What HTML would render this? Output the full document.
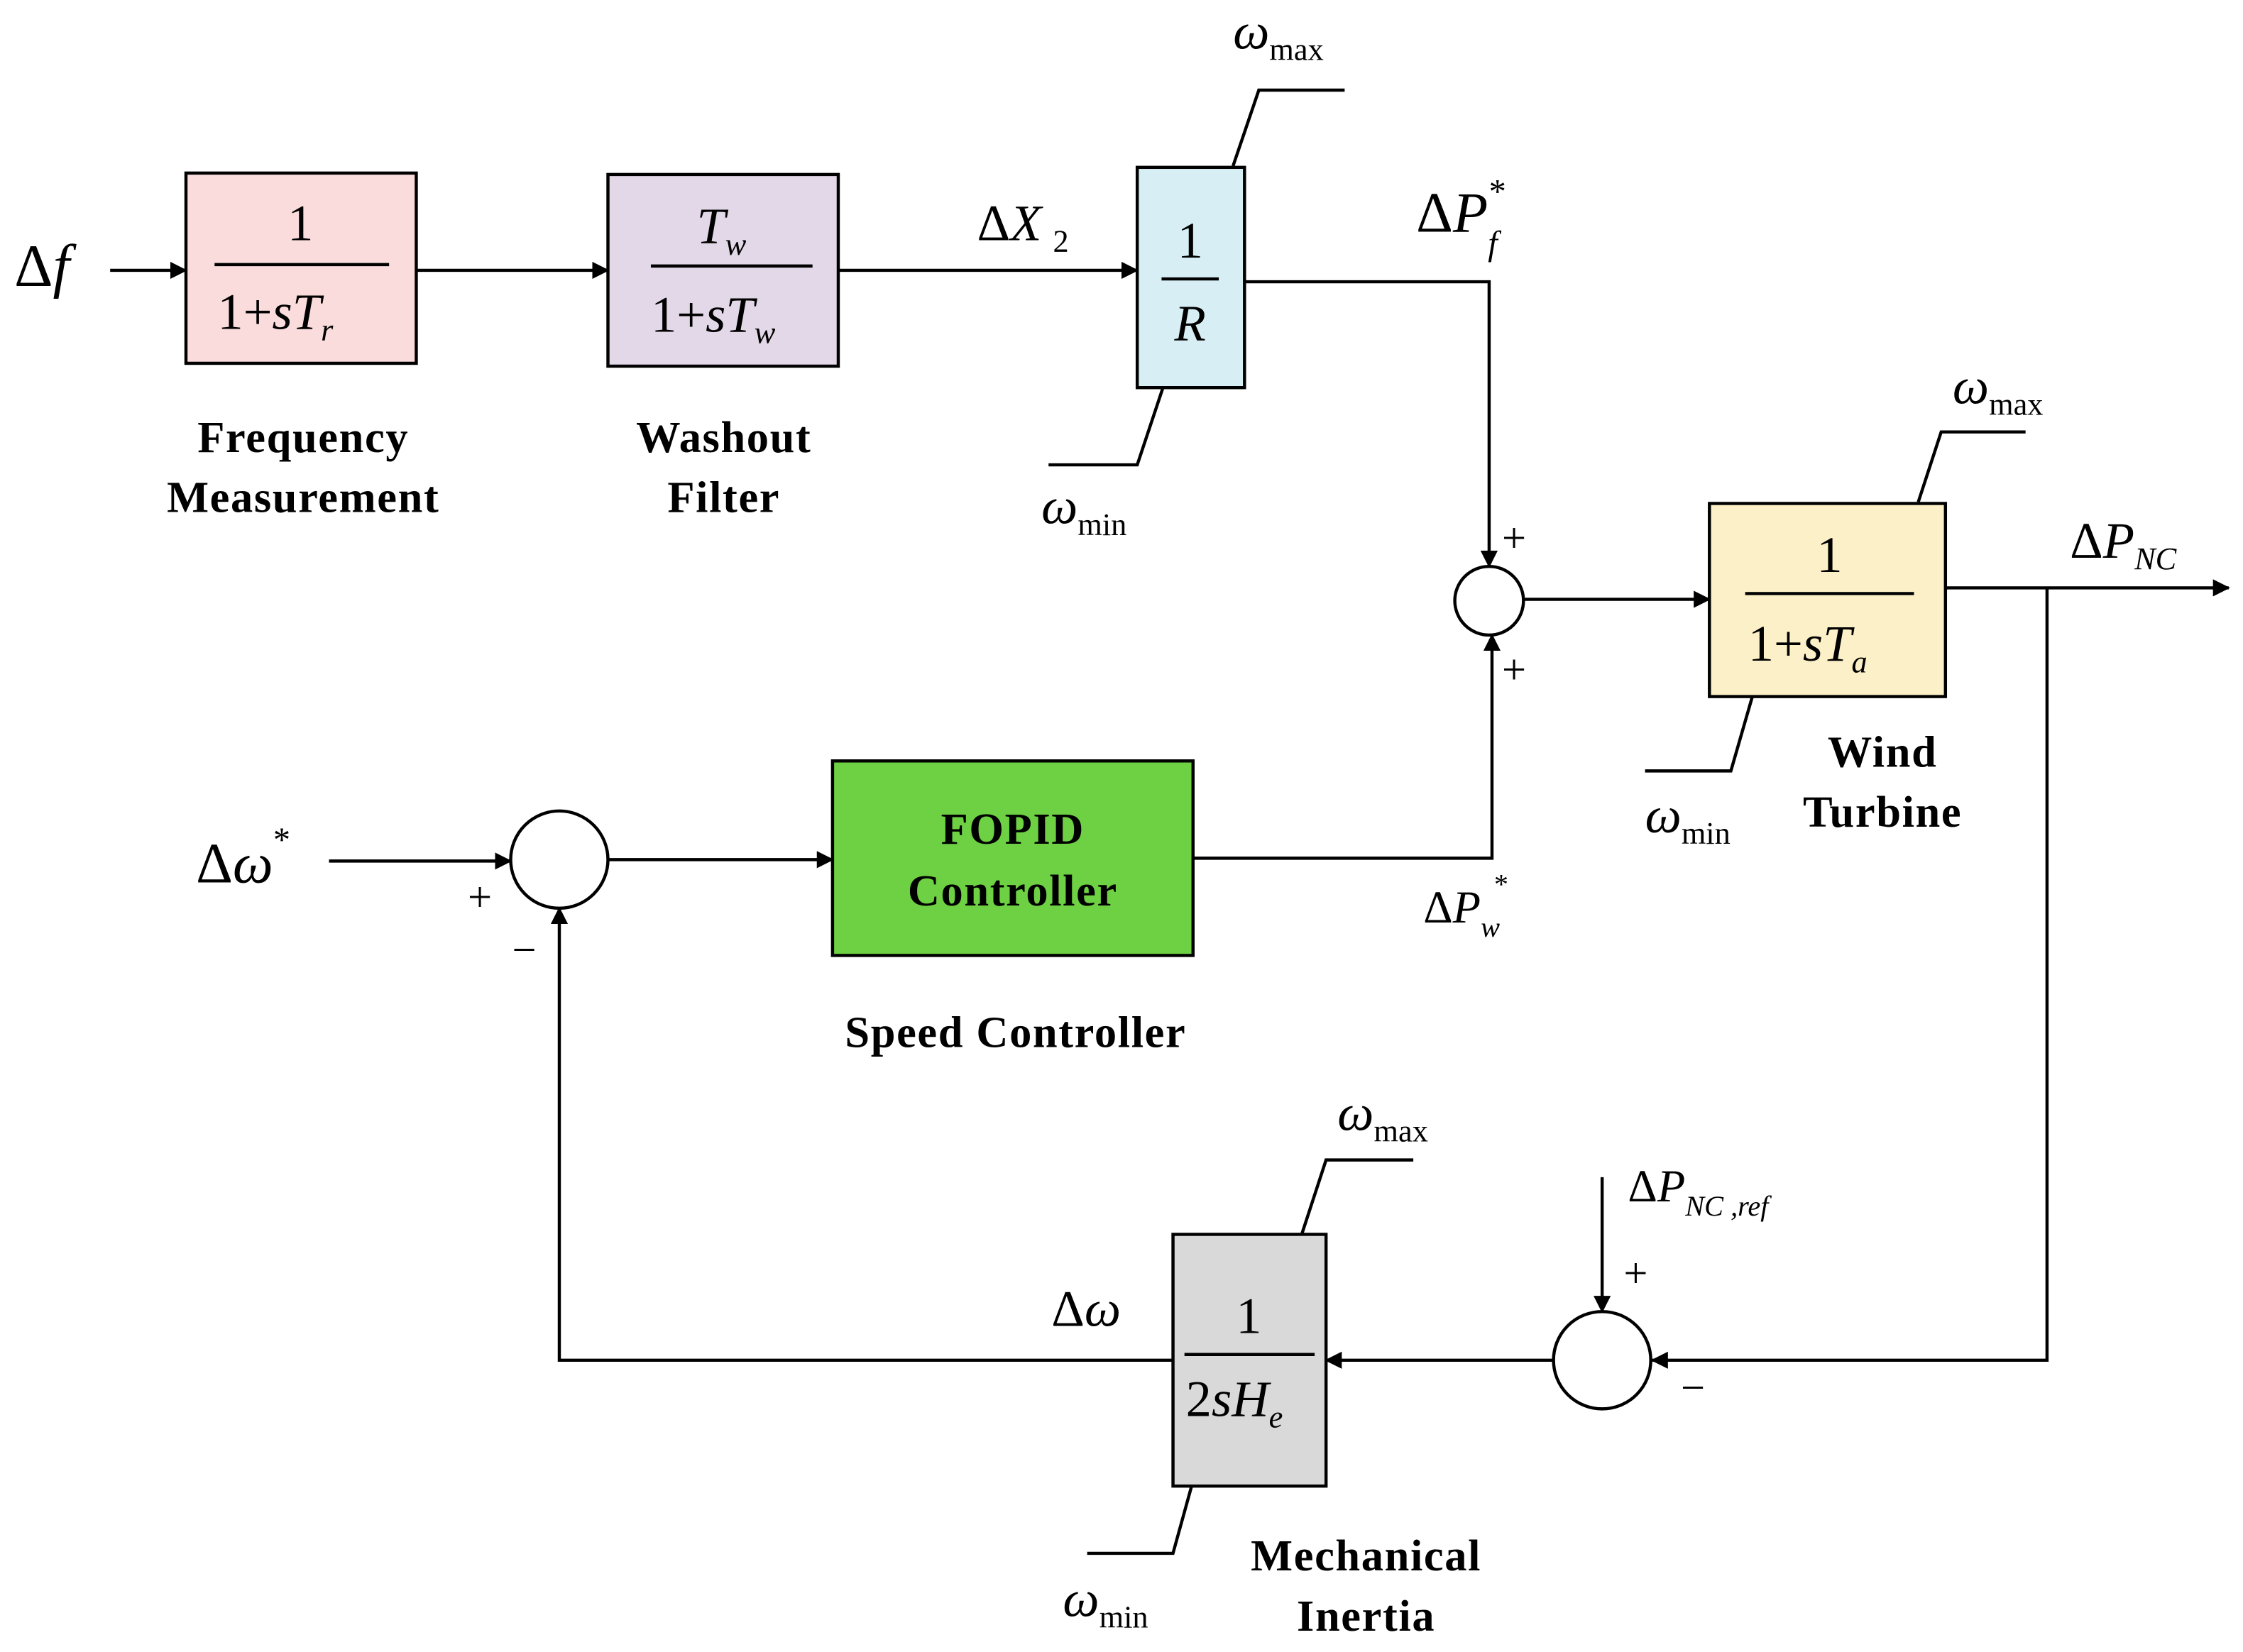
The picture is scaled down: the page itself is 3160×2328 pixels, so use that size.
<!DOCTYPE html>
<html><head><meta charset="utf-8"><style>html,body{margin:0;padding:0;background:#fff}svg{display:block}</style></head><body>
<svg width="3160" height="2328" viewBox="0 0 1568 1155" preserveAspectRatio="none" xmlns="http://www.w3.org/2000/svg" font-family="Liberation Serif, serif">
<defs><marker id="a" markerWidth="12" markerHeight="12" refX="11" refY="6" orient="auto" markerUnits="userSpaceOnUse"><path d="M0,0 L12,6 L0,12 z" fill="#000"/></marker></defs>
<g stroke="#000" stroke-width="2.2" fill="none">
<line x1="77" y1="189" x2="130" y2="189" marker-end="url(#a)"/>
<line x1="291" y1="189" x2="425" y2="189" marker-end="url(#a)"/>
<line x1="586" y1="189" x2="795" y2="189" marker-end="url(#a)"/>
<polyline points="870,197 1041,197 1041,396" marker-end="url(#a)"/>
<line x1="1065" y1="419" x2="1195" y2="419" marker-end="url(#a)"/>
<line x1="1360" y1="411" x2="1558" y2="411" marker-end="url(#a)"/>
<polyline points="1431,411 1431,951 1155,951" marker-end="url(#a)"/>
<line x1="1120" y1="823" x2="1120" y2="917" marker-end="url(#a)"/>
<line x1="1086" y1="951" x2="927" y2="951" marker-end="url(#a)"/>
<polyline points="820,951 391,951 391,635" marker-end="url(#a)"/>
<line x1="230" y1="602" x2="357" y2="602" marker-end="url(#a)"/>
<line x1="425" y1="601" x2="582" y2="601" marker-end="url(#a)"/>
<polyline points="834,600 1043,600 1043,444" marker-end="url(#a)"/>
<polyline points="862,116 880,63 940,63"/>
<polyline points="813,271 795,325 733,325"/>
<polyline points="1341,351 1357,302 1416,302"/>
<polyline points="1225,487 1210,539 1150,539"/>
<polyline points="910,863 927,811 988,811"/>
<polyline points="833,1039 820,1086 760,1086"/>
<circle cx="1041" cy="420" r="24"/>
<circle cx="1120" cy="951" r="34"/>
<circle cx="391" cy="601" r="34"/>
<rect x="130" y="121" width="161" height="133" fill="#f9dcdb"/>
<rect x="425" y="122" width="161" height="134" fill="#e3d8e8"/>
<rect x="795" y="117" width="75" height="154" fill="#d6eef4"/>
<rect x="1195" y="352" width="165" height="135" fill="#fcf0c8"/>
<rect x="820" y="863" width="107" height="176" fill="#d9d9d9"/>
<rect x="582" y="532" width="252" height="136" fill="#6ed143"/>
<line x1="150" y1="185" x2="272" y2="185"/>
<line x1="455" y1="186" x2="568" y2="186"/>
<line x1="812" y1="195" x2="852" y2="195"/>
<line x1="1220" y1="415" x2="1338" y2="415"/>
<line x1="828" y1="947" x2="919" y2="947"/>
</g>
<g font-size="36" fill="#000">
<text x="210" y="168" text-anchor="middle">1</text>
<text x="152" y="230">1+<tspan font-style="italic">sT</tspan><tspan font-size="22" font-style="italic" dy="8">r</tspan></text>
<text x="487" y="170" font-style="italic">T<tspan font-size="22" dy="8">w</tspan></text>
<text x="455" y="232">1+<tspan font-style="italic">sT</tspan><tspan font-size="22" font-style="italic" dy="8">w</tspan></text>
<text x="832" y="180" text-anchor="middle">1</text>
<text x="832" y="238" text-anchor="middle" font-style="italic">R</text>
<text x="1279" y="400" text-anchor="middle">1</text>
<text x="1222" y="462">1+<tspan font-style="italic">sT</tspan><tspan font-size="22" font-style="italic" dy="8">a</tspan></text>
<text x="873" y="932" text-anchor="middle">1</text>
<text x="829" y="990">2<tspan font-style="italic">sH</tspan><tspan font-size="22" font-style="italic" dy="8">e</tspan></text>
<text x="10" y="200" font-size="42">Δ<tspan font-style="italic">f</tspan></text>
<text x="683" y="168">Δ<tspan font-style="italic">X</tspan><tspan font-size="22" dx="8" dy="8">2</tspan></text>
<text x="990" y="162" font-size="40">Δ<tspan font-style="italic">P</tspan><tspan font-size="24" font-style="italic" dy="16">f</tspan><tspan font-size="24" dx="-6" dy="-36">*</tspan></text>
<text x="1447" y="390">Δ<tspan font-style="italic">P</tspan><tspan font-size="22" font-style="italic" dy="8">NC</tspan></text>
<text x="995" y="645" font-size="32">Δ<tspan font-style="italic">P</tspan><tspan font-size="20" font-style="italic" dy="10">w</tspan><tspan font-size="20" dx="-4" dy="-30">*</tspan></text>
<text x="1138" y="840" font-size="32">Δ<tspan font-style="italic">P</tspan><tspan font-size="20" font-style="italic" dy="10">NC ,ref</tspan></text>
<text x="137" y="617" font-size="40">Δ<tspan font-style="italic">ω</tspan><tspan font-size="24" dy="-22">*</tspan></text>
<text x="735" y="927">Δ<tspan font-style="italic">ω</tspan></text>
<text x="862" y="34" font-style="italic">ω<tspan font-size="22" font-style="normal" dy="8">max</tspan></text>
<text x="728" y="366" font-style="italic">ω<tspan font-size="22" font-style="normal" dy="8">min</tspan></text>
<text x="1365" y="282" font-style="italic">ω<tspan font-size="22" font-style="normal" dy="8">max</tspan></text>
<text x="1150" y="582" font-style="italic">ω<tspan font-size="22" font-style="normal" dy="8">min</tspan></text>
<text x="935" y="790" font-style="italic">ω<tspan font-size="22" font-style="normal" dy="8">max</tspan></text>
<text x="743" y="1130" font-style="italic">ω<tspan font-size="22" font-style="normal" dy="8">min</tspan></text>
</g>
<g font-size="30" fill="#000">
<text x="1050" y="386">+</text>
<text x="1050" y="478">+</text>
<text x="1135" y="900">+</text>
<text x="1175" y="980">−</text>
<text x="327" y="637">+</text>
<text x="358" y="674">−</text>
</g>
<g font-size="31" font-weight="bold" text-anchor="middle" fill="#000" letter-spacing="0.8">
<text x="212" y="316">Frequency</text><text x="212" y="358">Measurement</text>
<text x="506" y="316">Washout</text><text x="506" y="358">Filter</text>
<text x="1316" y="536">Wind</text><text x="1316" y="578">Turbine</text>
<text x="708" y="590">FOPID</text><text x="708" y="633">Controller</text>
<text x="710" y="732">Speed Controller</text>
<text x="955" y="1098">Mechanical</text><text x="955" y="1140">Inertia</text>
</g>
</svg>
</body></html>
